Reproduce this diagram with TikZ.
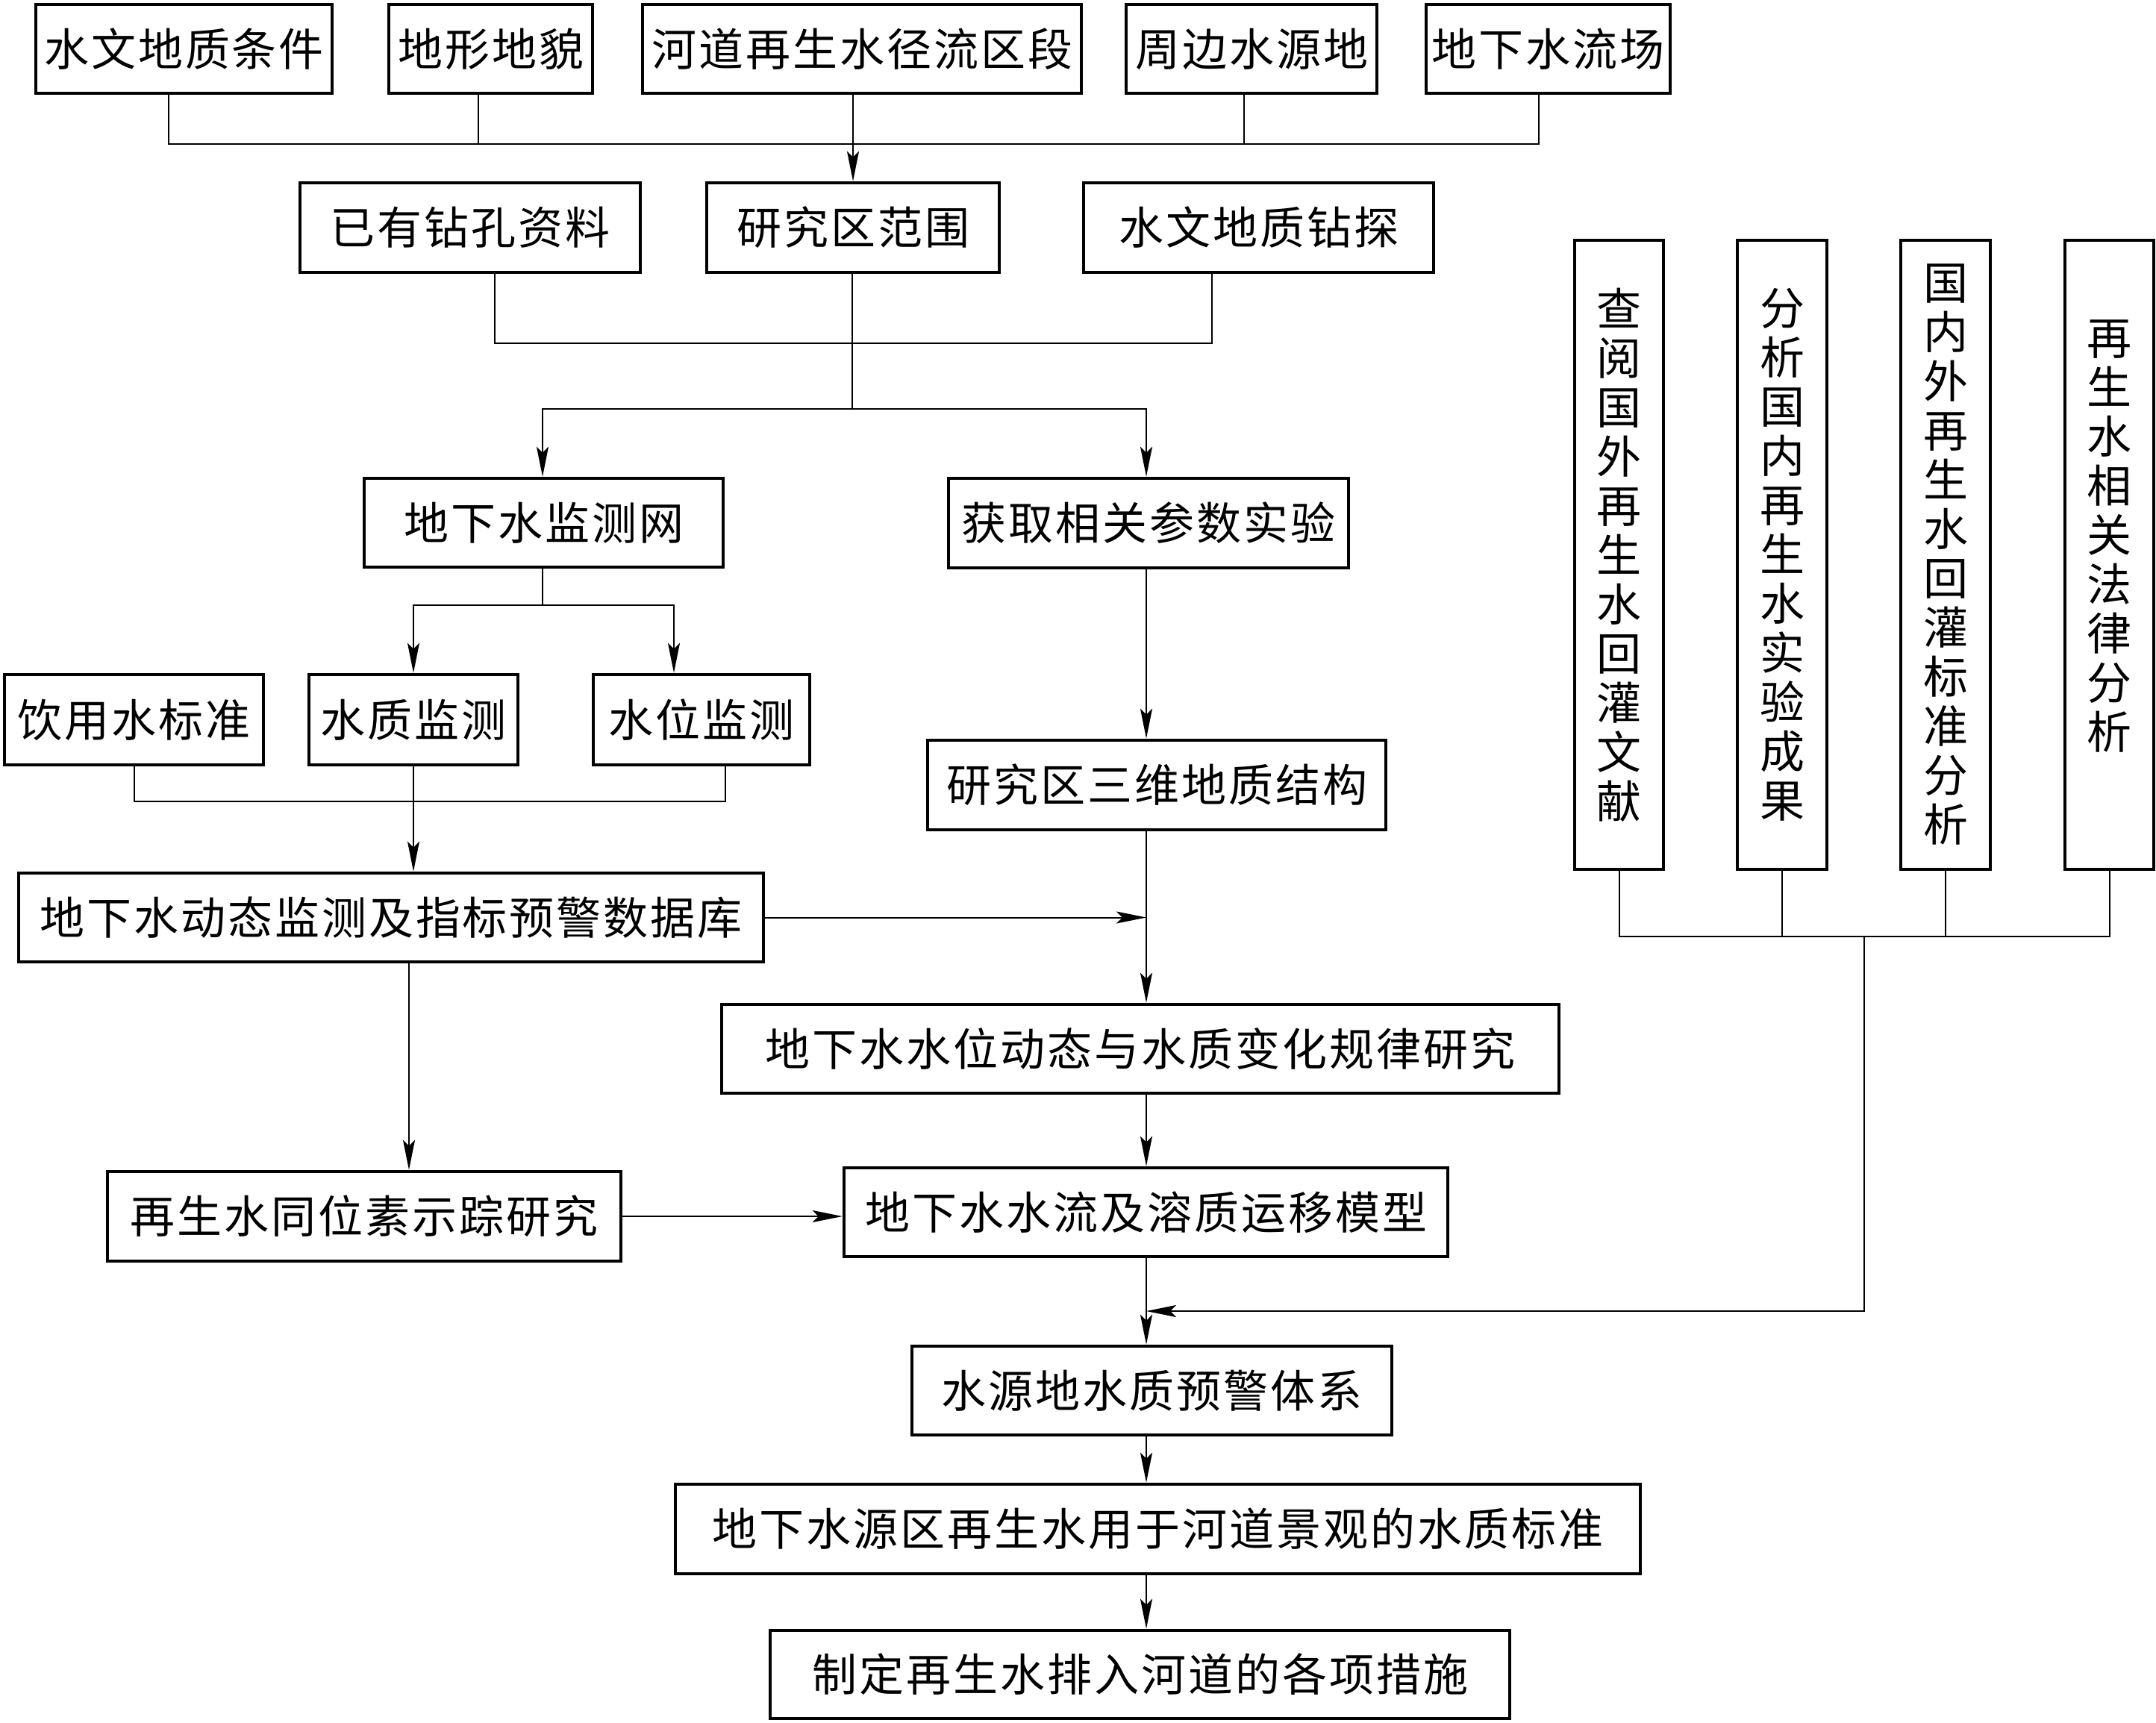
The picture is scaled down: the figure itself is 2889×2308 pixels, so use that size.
\documentclass[tikz,border=0pt]{standalone}
\usepackage{fontspec}
\setmainfont{Noto Sans CJK SC}[LetterSpace=5]
\usetikzlibrary{arrows.meta}
\tikzset{
  box/.style={draw, line width=4.5pt, inner sep=0pt, align=center,
    font=\fontsize{60pt}{72pt}\selectfont},
  vtext/.style={font=\fontsize{60pt}{66pt}\selectfont},
  conn/.style={line width=2pt},
  arr/.style={conn, -{Stealth[length=40pt,width=16pt,inset=8pt]}},
}
\newcommand\mybox[7][]{\node[box, #1, minimum width={(#3-#2)*1pt}, minimum height={(#5-#4)*1pt}] (#7) at ({(#2+#3)/2},{(#4+#5)/2}) {#6};}
\begin{document}
\begin{tikzpicture}[x=1pt,y=-1pt]
\useasboundingbox (0,0) rectangle (2889,2308);
\fill[white] (0,0) rectangle (2889,2308);
% row 1
\mybox{48}{445}{6}{125}{水文地质条件}{a1}
\mybox{521}{794}{6}{125}{地形地貌}{a2}
\mybox{861}{1449}{6}{125}{河道再生水径流区段}{a3}
\mybox{1509}{1845}{6}{125}{周边水源地}{a4}
\mybox{1911}{2238}{6}{125}{地下水流场}{a5}
% row 2
\mybox{402}{858}{245}{365}{已有钻孔资料}{b1}
\mybox{947}{1339}{245}{365}{研究区范围}{b2}
\mybox{1452}{1921}{245}{365}{水文地质钻探}{b3}
% row 3
\mybox{488}{969}{641}{760}{地下水监测网}{c1}
\mybox{1271}{1807}{641}{761}{获取相关参数实验}{c2}
% row 4
\mybox{6}{353}{904}{1025}{饮用水标准}{d1}
\mybox{414}{694}{904}{1025}{水质监测}{d2}
\mybox{795}{1085}{904}{1025}{水位监测}{d3}
\mybox{1243}{1857}{992}{1112}{研究区三维地质结构}{d4}
% lower rows
\mybox{25}{1023}{1170}{1289}{地下水动态监测及指标预警数据库}{e1}
\mybox{967}{2089}{1346}{1465}{地下水水位动态与水质变化规律研究}{f1}
\mybox{144}{832}{1570}{1690}{再生水同位素示踪研究}{g1}
\mybox{1131}{1940}{1565}{1684}{地下水水流及溶质运移模型}{g2}
\mybox{1222}{1865}{1804}{1923}{水源地水质预警体系}{h1}
\mybox{905}{2198}{1989}{2109}{地下水源区再生水用于河道景观的水质标准}{i1}
\mybox{1032}{2023}{2185}{2303}{制定再生水排入河道的各项措施}{j1}
% vertical boxes
\mybox[vtext]{2110}{2229}{322}{1165}{查\\阅\\国\\外\\再\\生\\水\\回\\灌\\文\\献}{v1}
\mybox[vtext]{2328}{2448}{322}{1165}{分\\析\\国\\内\\再\\生\\水\\实\\验\\成\\果}{v2}
\mybox[vtext]{2547}{2667}{322}{1165}{国\\内\\外\\再\\生\\水\\回\\灌\\标\\准\\分\\析}{v3}
\mybox[vtext]{2767}{2886}{322}{1165}{再\\生\\水\\相\\关\\法\\律\\分\\析\\[-12pt]}{v4}
% connectors row 1
\draw[conn] (a1.south -| 226,0) |- (2062,193) -- (a5.south -| 2062,0);
\draw[conn] (a2.south -| 641,0) -- (641,193);
\draw[conn] (a4.south -| 1667,0) -- (1667,193);
\draw[arr] (a3.south -| 1143,0) -- (b2.north -| 1143,0);
% row 2
\draw[conn] (b1.south -| 663,0) |- (1624,460) -- (b3.south -| 1624,0);
\coordinate (j2) at (1142,548);
\draw[conn] (b2.south -| 1142,0) -- (j2);
\draw[arr] (j2) -| (c1.north -| 727,0);
\draw[arr] (j2) -| (c2.north -| 1536,0);
% monitoring network
\coordinate (j3) at (727,811);
\draw[conn] (c1.south -| 727,0) -- (j3);
\draw[arr] (j3) -| (d2.north -| 554,0);
\draw[arr] (j3) -| (d3.north -| 903,0);
\draw[conn] (d1.south -| 180,0) |- (972,1074) -- (d3.south -| 972,0);
\draw[arr] (d2.south -| 554,0) -- (e1.north -| 554,0);
% right column
\draw[arr] (c2.south -| 1536,0) -- (d4.north -| 1536,0);
\draw[arr] (d4.south -| 1536,0) -- (f1.north -| 1536,0);
\draw[arr] (e1.east) -- (e1.east -| 1536,0);
\draw[arr] (e1.south -| 548,0) -- (g1.north -| 548,0);
\draw[arr] (f1.south -| 1536,0) -- (g2.north -| 1536,0);
\draw[arr] (g1.east) -- (g2.west |- g1.east);
\draw[arr] (g2.south -| 1536,0) -- (h1.north -| 1536,0);
\draw[arr] (h1.south -| 1536,0) -- (i1.north -| 1536,0);
\draw[arr] (i1.south -| 1536,0) -- (j1.north -| 1536,0);
% literature boxes
\coordinate (j4) at (2498,1255);
\draw[conn] (v1.south) |- (v4.south |- j4) -- (v4.south);
\draw[conn] (v2.south) -- (v2.south |- j4);
\draw[conn] (v3.south) -- (v3.south |- j4);
\draw[arr] (j4) |- (1536,1757);
\end{tikzpicture}
\end{document}
